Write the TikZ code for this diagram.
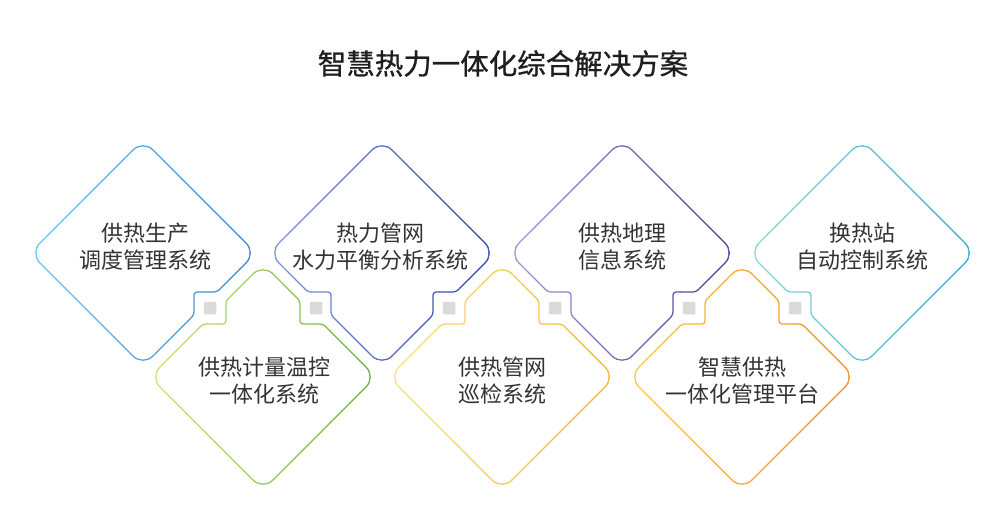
\documentclass[tikz,border=0pt]{standalone}
\usepackage{fontspec}
\setmainfont{Noto Sans CJK SC}
\newfontfamily\ttlfont[FakeBold=0.8]{Noto Sans CJK SC}
\definecolor{txt}{HTML}{333333}
\definecolor{ttl}{HTML}{1E1E1E}
\definecolor{sqc}{HTML}{DADADA}
\definecolor{aL}{HTML}{6CC8F2}\definecolor{aR}{HTML}{3684D4}
\definecolor{bL}{HTML}{8496DA}\definecolor{bR}{HTML}{2A44A6}
\definecolor{cL}{HTML}{A597D6}\definecolor{cR}{HTML}{4A3896}
\definecolor{dL}{HTML}{8ED8D4}\definecolor{dR}{HTML}{30A6D4}
\definecolor{eL}{HTML}{CFE47C}\definecolor{eR}{HTML}{64B22E}
\definecolor{fL}{HTML}{F8E47C}\definecolor{fR}{HTML}{F1B42C}
\definecolor{gL}{HTML}{F9CD3C}\definecolor{gR}{HTML}{F0892A}
% top diamond, notches on both lower edges
\def\pathTopBoth{(-56.5,-56.5) -- (0,-113) -- (113,0) -- (93.5,19.5) [rounded corners=3pt] -- (74,39) -- (51,39) -- (51,62) -- (25.5,87.5) [rounded corners=14pt] -- (0,113) -- (-25.5,87.5) [rounded corners=3pt] -- (-51,62) -- (-51,39) -- (-74,39) -- (-93.5,19.5) [rounded corners=14pt] -- (-113,0) -- cycle}
% top diamond, notch on lower right edge only
\def\pathTopR{(-56.5,-56.5) -- (0,-113) -- (113,0) -- (93.5,19.5) [rounded corners=3pt] -- (74,39) -- (51,39) -- (51,62) -- (25.5,87.5) [rounded corners=14pt] -- (0,113) -- (-113,0) -- cycle}
% top diamond, notch on lower left edge only
\def\pathTopL{(-56.5,-56.5) -- (0,-113) -- (113,0) -- (0,113) -- (-25.5,87.5) [rounded corners=3pt] -- (-51,62) -- (-51,39) -- (-74,39) -- (-93.5,19.5) [rounded corners=14pt] -- (-113,0) -- cycle}
% bottom diamond, notches on both upper edges
\def\pathBot{(-56.5,56.5) -- (-113,0) -- (-86.5,-26.5) [rounded corners=3pt] -- (-60,-53) -- (-37,-53) -- (-37,-76) -- (-18.5,-94.5) [rounded corners=14pt] -- (0,-113) -- (18.5,-94.5) [rounded corners=3pt] -- (37,-76) -- (37,-53) -- (60,-53) -- (86.5,-26.5) [rounded corners=14pt] -- (113,0) -- (0,113) -- cycle}
\newcommand\gradDiamond[5]{%
  \begin{scope}[shift={(#1,#2)}]
    \foreach \i in {0,...,23}{%
      \pgfmathtruncatemacro\p{round(100*\i/23)}%
      \begin{scope}
        \clip (-116+\i*9.6667,-125) rectangle ++(9.9667,250);
        \draw[dline,#5!\p!#4,rounded corners=14pt] #3;
      \end{scope}
    }
  \end{scope}}
\begin{document}
\begin{tikzpicture}[x=1pt,y=-1pt,
  dline/.style={line width=1.25pt},
  sq/.style={fill=sqc,minimum size=12.5pt,inner sep=0pt,outer sep=0pt,rounded corners=1pt},
  lbl/.style={align=center,text=txt,font=\fontsize{22}{27}\selectfont,inner sep=0pt},
  ttlstyle/.style={text=ttl,font=\ttlfont\fontsize{28.5}{30}\selectfont,inner sep=0pt}]
\fill[white] (0,0) rectangle (1000,505);
\useasboundingbox (0,0) rectangle (1000,505);
\node[ttlstyle] (title) at (503,63.5) {智慧热力一体化综合解决方案};
% diamonds
\gradDiamond{143}{253}{\pathTopR}{aL}{aR}
\gradDiamond{382}{253}{\pathTopBoth}{bL}{bR}
\gradDiamond{622}{253}{\pathTopBoth}{cL}{cR}
\gradDiamond{862}{253}{\pathTopL}{dL}{dR}
\gradDiamond{263}{377}{\pathBot}{eL}{eR}
\gradDiamond{502}{377}{\pathBot}{fL}{fR}
\gradDiamond{742}{377}{\pathBot}{gL}{gR}
% squares
\node[sq] (s1) at (210,308) {};
\node[sq] (s2) at (316,308) {};
\node[sq] (s3) at (449,308) {};
\node[sq] (s4) at (555,308) {};
\node[sq] (s5) at (689,308) {};
\node[sq] (s6) at (795,308) {};
% labels
\node[lbl] (t1) at (145,246.5) {供热生产\\调度管理系统};
\node[lbl] (t2) at (380,246.5) {热力管网\\水力平衡分析系统};
\node[lbl] (t3) at (622,246.5) {供热地理\\信息系统};
\node[lbl] (t4) at (862,246.5) {换热站\\自动控制系统};
\node[lbl] (t5) at (264,380.5) {供热计量温控\\一体化系统};
\node[lbl] (t6) at (502,380.5) {供热管网\\巡检系统};
\node[lbl] (t7) at (742,380.5) {智慧供热\\一体化管理平台};
\end{tikzpicture}
\end{document}
